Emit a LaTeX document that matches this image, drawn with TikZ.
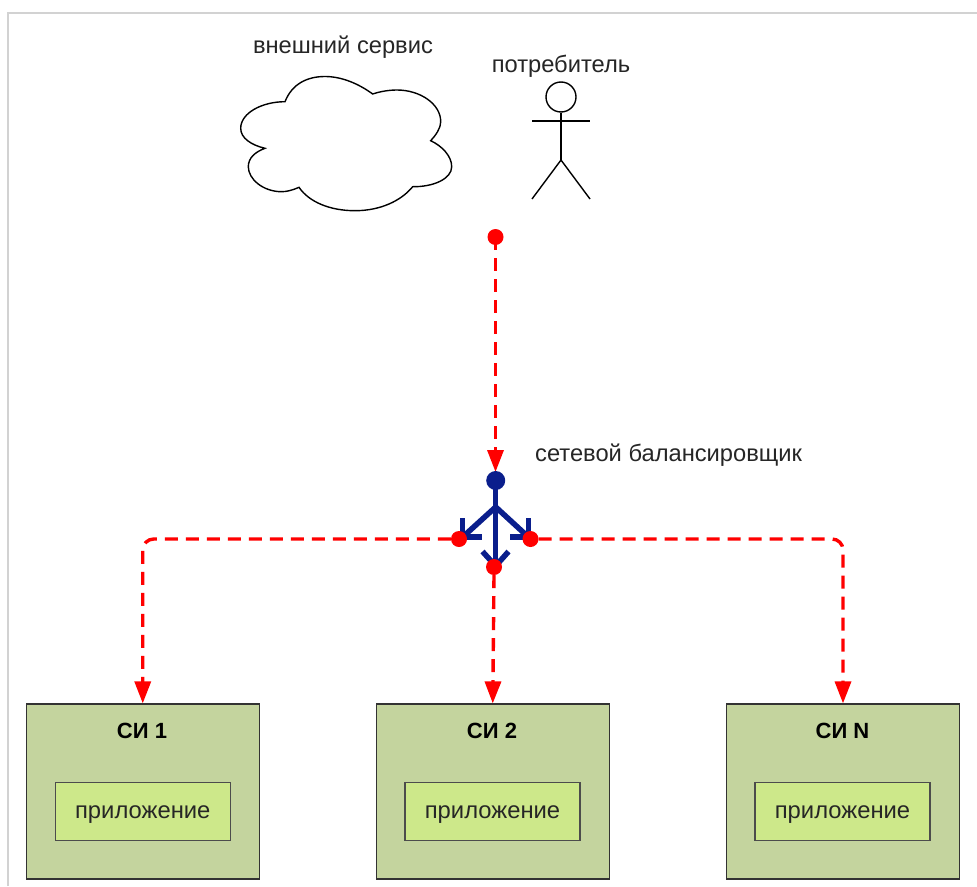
\documentclass[tikz,border=0pt]{standalone}
\usepackage{fontspec}
\setmainfont{Liberation Sans}
\usetikzlibrary{arrows.meta}
\pgfdeclarelayer{back}
\pgfsetlayers{back,main}
\definecolor{siOuter}{HTML}{C4D49E}
\definecolor{siInner}{HTML}{CDE88A}
\definecolor{frameGray}{HTML}{D2D2D2}
\definecolor{flowRed}{HTML}{FF0000}
\definecolor{balBlue}{HTML}{0A1E8C}
\tikzset{
  sibox/.style={draw=black!80,line width=1.2pt,fill=siOuter,minimum width=233pt,minimum height=175pt,inner sep=0pt},
  appbox/.style={draw=black!70,line width=1.1pt,fill=siInner,minimum width=175pt,minimum height=58pt,inner sep=0pt},
  apptext/.style={font=\fontsize{23.8}{28}\selectfont,text=black!85,inner sep=0pt},
  sititle/.style={font=\fontsize{22}{26}\selectfont\bfseries,text=black,inner sep=0pt},
  label/.style={font=\fontsize{23.7}{28}\selectfont,text=black!85,inner sep=0pt},
  reddot/.style={circle,fill=flowRed,minimum size=16pt,inner sep=0pt},
  bluedot/.style={circle,fill=balBlue,minimum size=19pt,inner sep=0pt},
  flow/.style={draw=flowRed,line width=3.4pt,dash pattern=on 13pt off 8pt,-{Triangle[length=22pt,width=16pt,fill=flowRed]}},
  flowline/.style={flow,rounded corners=11pt},
  bal/.style={draw=balBlue,line width=5.5pt},
  thin line/.style={draw=black,line width=1.4pt},
}
\begin{document}
\begin{tikzpicture}[x=1pt,y=-1pt]
\useasboundingbox (0,0) rectangle (977,886);
\begin{pgfonlayer}{back}
\fill[white] (0,0) rectangle (977,886);
\end{pgfonlayer}
% frame
\coordinate (f1) at (8,886);
\coordinate (f2) at (8,13);
\coordinate (f3) at (977,13);
\draw[frameGray,line width=2.2pt] (f1) -- (f2) -- (f3);
% cloud
\draw[thin line,fill=white]
 (285,101.7) .. controls (292,84) and (307,76.5) .. (325,76.5)
 .. controls (342,76.5) and (359,84) .. (372.7,94)
 .. controls (380,91.5) and (389,90) .. (397,90)
 .. controls (420,90) and (441,104) .. (440.7,122)
 .. controls (440.7,128) and (436,135) .. (430.7,140.7)
 .. controls (442,146) and (451.7,156) .. (451.7,166.7)
 .. controls (451.7,179) and (433,187) .. (412.7,186.7)
 .. controls (401,201) and (380,210.7) .. (355,210.7)
 .. controls (330,210.7) and (309,202) .. (299,187.3)
 .. controls (293,190) and (287,191.7) .. (281.7,191.7)
 .. controls (263,191.7) and (248.3,179) .. (248.3,166.7)
 .. controls (248.3,158) and (255,152) .. (265,148.3)
 .. controls (251,145) and (240.7,138) .. (240.7,128.3)
 .. controls (240.7,113) and (262,101.7) .. (285,101.7)
 -- cycle;
% person
\node[circle,draw=black,line width=1.4pt,minimum size=30pt,inner sep=0pt] (head) at (561,97) {};
\coordinate (hip) at (561,160);
\coordinate (armL) at (532,121);
\coordinate (armR) at (590,121);
\coordinate (legL) at (532,199);
\coordinate (legR) at (590,199);
\draw[thin line] (head.south) -- (hip);
\draw[thin line] (armL) -- (armR);
\draw[thin line] (legL) -- (hip) -- (legR);
% labels
\node[label] (lext) at (343,47.5) {внешний сервис};
\node[label] (luser) at (561,66) {потребитель};
\node[label,anchor=west] (lbal) at (535,455) {сетевой балансировщик};
% boxes
\node[sibox] (si1) at (142.75,791.5) {};
\node[sibox] (si2) at (492.75,791.5) {};
\node[sibox] (si3) at (843,791.5) {};
\node[sititle] (t1) at (142,730.5) {СИ 1};
\node[sititle] (t2) at (492,730.5) {СИ 2};
\node[sititle] (t3) at (842.5,730.5) {СИ N};
\node[appbox] (a1) at (142.75,811.5) {};
\node[appbox] (a2) at (492.5,811.5) {};
\node[appbox] (a3) at (842.5,811.5) {};
\node[apptext] (x1) at (142.75,815) {приложение};
\node[apptext] (x2) at (492.5,815) {приложение};
\node[apptext] (x3) at (842.5,815) {приложение};
% balancer
\coordinate (junc) at (495.7,507);
\coordinate (tipL) at (462.7,537);
\coordinate (tipR) at (528.3,537);
\coordinate (tipB) at (495.7,566);
\coordinate (bL1) at (462.7,518);
\coordinate (bL2) at (482,537);
\coordinate (bR1) at (528.3,518);
\coordinate (bR2) at (509.5,537);
\coordinate (bB1) at (482.5,551.5);
\coordinate (bB2) at (508.5,551.5);
\node[bluedot] (bal) at (495.7,480.5) {};
\draw[bal] (bal.center) -- (junc);
\draw[bal] (junc) -- (tipL);
\draw[bal] (junc) -- (tipR);
\draw[bal] (junc) -- (tipB);
\draw[bal,line join=miter] (bL1) -- (tipL) -- (bL2);
\draw[bal,line join=miter] (bR1) -- (tipR) -- (bR2);
\draw[bal,line join=miter] (bB1) -- (tipB) -- (bB2);
% red ports
\node[reddot] (src) at (495.5,237) {};
\node[reddot] (pL) at (459,539) {};
\node[reddot] (pR) at (530.5,539) {};
\node[reddot] (pB) at (494,567) {};
\coordinate (balTop) at (495.5,472);
\begin{pgfonlayer}{back}
\draw[flow] (src.center) -- (balTop);
\end{pgfonlayer}
\draw[flowline] (pL.west) -| (si1.north);
\draw[flowline] (pR.east) -| (si3.north);
\draw[flow] (pB.south) -- (si2.north);
\end{tikzpicture}
\end{document}
